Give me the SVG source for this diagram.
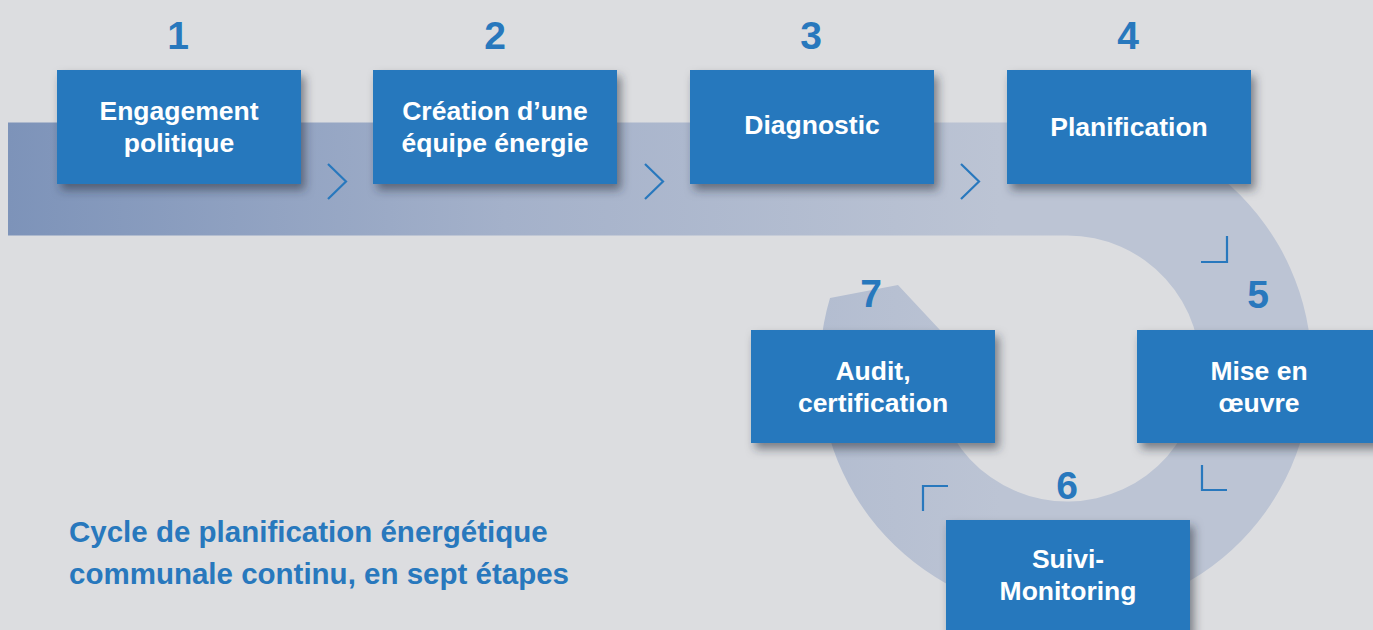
<svg xmlns="http://www.w3.org/2000/svg" width="1373" height="630" viewBox="0 0 1373 630">
<defs>
<linearGradient id="bandGrad" gradientUnits="userSpaceOnUse" x1="8" y1="0" x2="1000" y2="0">
<stop offset="0" stop-color="#7d93b9"/>
<stop offset="0.5" stop-color="#a4b1ca"/>
<stop offset="1" stop-color="#bcc4d4"/>
</linearGradient>
<filter id="shadow" x="-10%" y="-10%" width="130%" height="140%">
<feDropShadow dx="4" dy="6" stdDeviation="5" flood-color="#2a2f3a" flood-opacity="0.55"/>
</filter>
</defs>
<style>
.box{fill:#2878bd;filter:url(#shadow);}
.lbl{font-family:"Liberation Sans",Arial,sans-serif;font-weight:bold;font-size:26.5px;fill:#ffffff;text-anchor:middle;}
.num{font-family:"Liberation Sans",Arial,sans-serif;font-weight:bold;font-size:39px;fill:#2878bd;text-anchor:middle;}
.title{font-family:"Liberation Sans",Arial,sans-serif;font-weight:bold;font-size:29.5px;fill:#2878bd;}
.mark{fill:none;stroke:#2878bd;stroke-width:2.2;}
</style>
<rect width="1373" height="630" fill="#dcdde0"/>
<path id="band" d="M8,122.5 L1067,122.5 A246,246 0 1 1 830,298 L898,285 L940,330 A133,133 0 1 0 1067,235.5 L8,235.5 Z" fill="url(#bandGrad)"/>
<g id="connectors">
<path class="mark" d="M328,164 L346,181.5 L328,199"/>
<path class="mark" d="M645,164 L663,181.5 L645,199"/>
<path class="mark" d="M961,164 L979,181.5 L961,199"/>
<path class="mark" d="M1227,236 L1227,262 L1201,262"/>
<path class="mark" d="M1202,465 L1202,490 L1227,490"/>
<path class="mark" d="M923,511 L923,486 L948,486"/>
</g>
<g id="node1">
<text class="num" x="178" y="49">1</text>
<rect class="box" x="57" y="70" width="244" height="114"/>
<text class="lbl" x="179" y="120">Engagement</text>
<text class="lbl" x="179" y="152">politique</text>
</g>
<g id="node2">
<text class="num" x="495" y="49">2</text>
<rect class="box" x="373" y="70" width="244" height="114"/>
<text class="lbl" x="495" y="120">Création d’une</text>
<text class="lbl" x="495" y="152">équipe énergie</text>
</g>
<g id="node3">
<text class="num" x="811" y="49">3</text>
<rect class="box" x="690" y="70" width="244" height="114"/>
<text class="lbl" x="812" y="134">Diagnostic</text>
</g>
<g id="node4">
<text class="num" x="1128" y="49">4</text>
<rect class="box" x="1007" y="70" width="244" height="114"/>
<text class="lbl" x="1129" y="136">Planification</text>
</g>
<g id="node5">
<text class="num" x="1258" y="308">5</text>
<rect class="box" x="1137" y="330" width="244" height="113"/>
<text class="lbl" x="1259" y="380">Mise en</text>
<text class="lbl" x="1259" y="412">œuvre</text>
</g>
<g id="node6">
<text class="num" x="1067" y="499">6</text>
<rect class="box" x="946" y="520" width="244" height="114"/>
<text class="lbl" x="1068" y="568">Suivi-</text>
<text class="lbl" x="1068" y="600">Monitoring</text>
</g>
<g id="node7">
<text class="num" x="871" y="307">7</text>
<rect class="box" x="751" y="330" width="244" height="113"/>
<text class="lbl" x="873" y="380">Audit,</text>
<text class="lbl" x="873" y="412">certification</text>
</g>
<g id="caption">
<text class="title" x="69" y="542">Cycle de planification énergétique</text>
<text class="title" x="69" y="584">communale continu, en sept étapes</text>
</g>
</svg>
